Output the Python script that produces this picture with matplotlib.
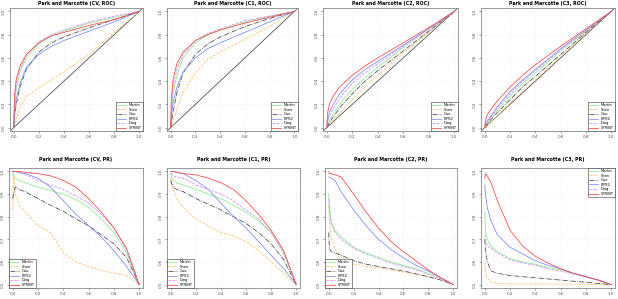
import matplotlib
matplotlib.use("Agg")
from matplotlib import pyplot as plt

methods = ["Martin", "Shen", "Guo", "PIPE2", "Ding", "SPRINT"]
colors = ["#88ee88", "#ffc060", "#444444", "#7788ff", "#d088ff", "#ff4040"]
styles = ["-", "--", "-.", "-", "--", "-"]

# ROC curves, TPR at a common set of FPR values
fpr = [0, 0.005, 0.02, 0.05, 0.1, 0.2, 0.3, 0.4, 0.6, 0.8, 1.0]
roc_cv = [
    [0, 0.15, 0.33, 0.48, 0.60, 0.72, 0.79, 0.83, 0.90, 0.95, 1],
    [0, 0.02, 0.08, 0.17, 0.27, 0.34, 0.41, 0.48, 0.63, 0.82, 1],
    [0, 0.08, 0.20, 0.35, 0.50, 0.65, 0.73, 0.78, 0.86, 0.93, 1],
    [0, 0.10, 0.25, 0.38, 0.52, 0.63, 0.70, 0.75, 0.83, 0.91, 1],
    [0, 0.20, 0.38, 0.50, 0.62, 0.74, 0.80, 0.84, 0.91, 0.96, 1],
    [0, 0.26, 0.42, 0.53, 0.63, 0.73, 0.79, 0.82, 0.88, 0.93, 1],
]
roc_c1 = [
    [0, 0.12, 0.30, 0.45, 0.60, 0.73, 0.80, 0.84, 0.91, 0.96, 1],
    [0, 0.02, 0.06, 0.15, 0.30, 0.47, 0.59, 0.65, 0.76, 0.87, 1],
    [0, 0.04, 0.14, 0.30, 0.47, 0.63, 0.72, 0.78, 0.87, 0.94, 1],
    [0, 0.10, 0.22, 0.35, 0.48, 0.60, 0.68, 0.73, 0.82, 0.91, 1],
    [0, 0.18, 0.36, 0.50, 0.63, 0.75, 0.81, 0.85, 0.92, 0.96, 1],
    [0, 0.25, 0.42, 0.55, 0.65, 0.75, 0.80, 0.84, 0.90, 0.95, 1],
]
roc_c2 = [
    [0, 0.02, 0.06, 0.12, 0.20, 0.33, 0.43, 0.52, 0.69, 0.85, 1],
    [0, 0.01, 0.03, 0.06, 0.12, 0.24, 0.35, 0.45, 0.64, 0.82, 1],
    [0, 0.01, 0.04, 0.09, 0.17, 0.29, 0.40, 0.49, 0.66, 0.83, 1],
    [0, 0.06, 0.13, 0.20, 0.29, 0.41, 0.50, 0.57, 0.71, 0.85, 1],
    [0, 0.04, 0.10, 0.16, 0.25, 0.38, 0.47, 0.55, 0.70, 0.85, 1],
    [0, 0.12, 0.20, 0.27, 0.35, 0.45, 0.53, 0.60, 0.73, 0.86, 1],
]
roc_c3 = [
    [0, 0.01, 0.04, 0.09, 0.15, 0.27, 0.38, 0.47, 0.66, 0.83, 1],
    [0, 0.005, 0.02, 0.05, 0.10, 0.21, 0.31, 0.41, 0.61, 0.81, 1],
    [0, 0.01, 0.03, 0.07, 0.13, 0.24, 0.35, 0.44, 0.63, 0.82, 1],
    [0, 0.03, 0.06, 0.10, 0.18, 0.31, 0.41, 0.50, 0.68, 0.84, 1],
    [0, 0.02, 0.05, 0.09, 0.17, 0.29, 0.40, 0.49, 0.67, 0.84, 1],
    [0, 0.06, 0.11, 0.16, 0.23, 0.35, 0.45, 0.54, 0.70, 0.85, 1],
]

# PR curves, precision at a common set of recall values
recall = [0, 0.005, 0.02, 0.05, 0.1, 0.2, 0.3, 0.4, 0.5, 0.6, 0.7, 0.8, 0.9, 1.0]
pr_cv = [
    [0.99, 0.98, 0.97, 0.96, 0.95, 0.93, 0.915, 0.90, 0.875, 0.84, 0.79, 0.73, 0.64, 0.5],
    [0.83, 1.00, 0.90, 0.85, 0.82, 0.76, 0.73, 0.64, 0.60, 0.58, 0.563, 0.55, 0.54, 0.5],
    [0.88, 0.90, 0.93, 0.92, 0.91, 0.88, 0.85, 0.824, 0.79, 0.76, 0.72, 0.68, 0.62, 0.5],
    [1.00, 1.00, 1.00, 0.995, 0.99, 0.97, 0.93, 0.87, 0.81, 0.76, 0.71, 0.65, 0.58, 0.5],
    [1.00, 1.00, 1.00, 0.995, 0.985, 0.96, 0.94, 0.92, 0.89, 0.86, 0.81, 0.75, 0.65, 0.5],
    [1.00, 1.00, 1.00, 1.00, 0.995, 0.99, 0.98, 0.96, 0.93, 0.88, 0.82, 0.75, 0.66, 0.5],
]
pr_c1 = [
    [0.99, 0.98, 0.96, 0.95, 0.94, 0.92, 0.90, 0.88, 0.85, 0.82, 0.78, 0.73, 0.64, 0.5],
    [0.97, 0.95, 0.92, 0.88, 0.84, 0.79, 0.76, 0.73, 0.715, 0.69, 0.65, 0.60, 0.55, 0.5],
    [0.96, 0.95, 0.93, 0.92, 0.91, 0.88, 0.855, 0.83, 0.80, 0.77, 0.73, 0.68, 0.61, 0.5],
    [1.00, 1.00, 1.00, 0.995, 0.99, 0.96, 0.92, 0.86, 0.80, 0.75, 0.69, 0.63, 0.57, 0.5],
    [0.99, 0.99, 0.98, 0.975, 0.97, 0.94, 0.92, 0.90, 0.87, 0.83, 0.79, 0.73, 0.64, 0.5],
    [1.00, 1.00, 1.00, 0.995, 0.99, 0.985, 0.97, 0.95, 0.92, 0.87, 0.81, 0.74, 0.65, 0.5],
]
pr_c2 = [
    [0.90, 0.85, 0.78, 0.74, 0.71, 0.665, 0.64, 0.62, 0.60, 0.585, 0.57, 0.55, 0.53, 0.5],
    [0.85, 0.78, 0.71, 0.66, 0.62, 0.59, 0.58, 0.575, 0.565, 0.555, 0.545, 0.535, 0.52, 0.5],
    [0.73, 0.66, 0.645, 0.64, 0.63, 0.605, 0.59, 0.58, 0.57, 0.56, 0.548, 0.535, 0.52, 0.5],
    [0.975, 0.975, 0.97, 0.96, 0.91, 0.83, 0.76, 0.70, 0.655, 0.618, 0.585, 0.56, 0.53, 0.5],
    [0.88, 0.83, 0.77, 0.73, 0.70, 0.66, 0.635, 0.615, 0.595, 0.58, 0.565, 0.545, 0.525, 0.5],
    [1.00, 0.99, 0.99, 0.985, 0.975, 0.90, 0.82, 0.75, 0.69, 0.645, 0.605, 0.565, 0.53, 0.5],
]
pr_c3 = [
    [0.82, 0.74, 0.70, 0.67, 0.645, 0.615, 0.60, 0.59, 0.575, 0.565, 0.55, 0.535, 0.52, 0.5],
    [0.60, 0.56, 0.53, 0.51, 0.505, 0.503, 0.503, 0.503, 0.503, 0.502, 0.502, 0.501, 0.501, 0.5],
    [0.70, 0.66, 0.60, 0.56, 0.55, 0.54, 0.535, 0.53, 0.525, 0.52, 0.515, 0.51, 0.505, 0.5],
    [0.94, 0.90, 0.84, 0.78, 0.72, 0.665, 0.635, 0.605, 0.585, 0.57, 0.55, 0.535, 0.52, 0.5],
    [0.72, 0.69, 0.67, 0.66, 0.64, 0.61, 0.595, 0.585, 0.57, 0.56, 0.547, 0.533, 0.518, 0.5],
    [0.97, 0.99, 0.98, 0.95, 0.87, 0.74, 0.67, 0.625, 0.595, 0.57, 0.55, 0.535, 0.52, 0.5],
]

W, H = 618, 299
fig = plt.figure(figsize=(W / 100, H / 100), dpi=100)

def add_box(x0, x1, y0, y1):
    # pixel box -> figure fraction
    return fig.add_axes([x0 / W, 1 - y1 / H, (x1 - x0) / W, (y1 - y0) / H])

def style_axes(ax, yticks):
    ax.set_xticks([0, 0.2, 0.4, 0.6, 0.8, 1.0])
    ax.set_yticks(yticks)
    ax.set_xticklabels(["0.0", "0.2", "0.4", "0.6", "0.8", "1.0"])
    ax.set_yticklabels(["%.1f" % t for t in yticks], rotation=90, va="center")
    ax.tick_params(labelsize=3.0, length=1.5, width=0.4, pad=1.5,
                   colors="#555555")
    ax.grid(True, color="#e4e4e4", linestyle=":", linewidth=0.4)
    for s in ax.spines.values():
        s.set_color("#888888")
        s.set_linewidth(0.6)

def add_legend(ax, loc):
    leg = ax.legend(loc=loc, fontsize=2.6, handlelength=2.5,
                    borderpad=0.3, labelspacing=0.15, fancybox=False,
                    framealpha=1, borderaxespad=0)
    leg.get_frame().set_edgecolor("#333333")
    leg.get_frame().set_linewidth(0.4)

roc_boxes = [(10, 143), (167, 298), (323, 458), (481, 615)]
roc_titles = ["Park and Marcotte (CV, ROC)", "Park and Marcotte (C1, ROC)",
              "Park and Marcotte (C2, ROC)", "Park and Marcotte (C3, ROC)"]
for (x0, x1), title, data in zip(roc_boxes, roc_titles, [roc_cv, roc_c1, roc_c2, roc_c3]):
    ax = add_box(x0, x1, 8, 131)
    ax.axline((0, 0), (1, 1), color="#333333", linewidth=0.5)
    for name, c, ls, tpr in zip(methods, colors, styles, data):
        ax.plot(fpr, tpr, color=c, linestyle=ls, linewidth=0.55, label=name)
    ax.set_xlim(-0.03, 1.03)
    ax.set_ylim(-0.03, 1.03)
    style_axes(ax, [0, 0.2, 0.4, 0.6, 0.8, 1.0])
    ax.set_title(title, fontsize=3.4, fontweight="bold", pad=2)
    add_legend(ax, "lower right")

pr_boxes = [(9, 143), (167, 300), (325, 457), (481, 615)]
pr_titles = ["Park and Marcotte (CV, PR)", "Park and Marcotte (C1, PR)",
             "Park and Marcotte (C2, PR)", "Park and Marcotte (C3, PR)"]
pr_legloc = ["lower left", "lower left", "lower left", "upper right"]
for (x0, x1), title, data, loc in zip(pr_boxes, pr_titles, [pr_cv, pr_c1, pr_c2, pr_c3], pr_legloc):
    ax = add_box(x0, x1, 168, 288)
    for name, c, ls, prec in zip(methods, colors, styles, data):
        ax.plot(recall, prec, color=c, linestyle=ls, linewidth=0.55, label=name)
    ax.set_xlim(-0.03, 1.03)
    ax.set_ylim(0.485, 1.015)
    style_axes(ax, [0.5, 0.6, 0.7, 0.8, 0.9, 1.0])
    ax.set_title(title, fontsize=3.4, fontweight="bold", pad=5)
    add_legend(ax, loc)

fig.savefig("out.png", dpi=100)
